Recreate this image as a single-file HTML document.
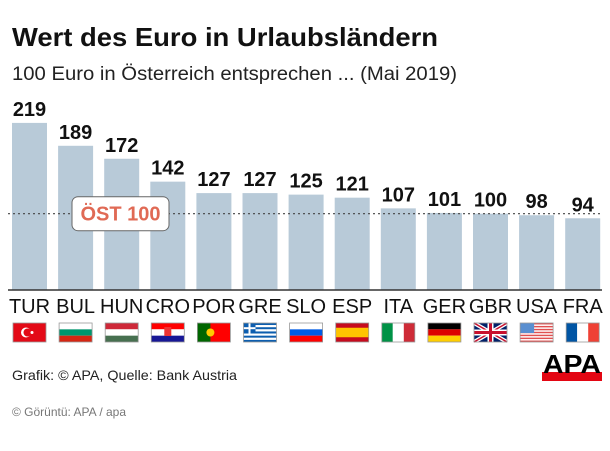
<!DOCTYPE html>
<html><head><meta charset="utf-8"><style>
body{margin:0;width:610px;height:446px;background:#fff;font-family:"Liberation Sans",sans-serif;overflow:hidden}
svg text{font-family:"Liberation Sans",sans-serif}
</style></head><body>
<svg width="610" height="446" id="c">
<text x="12" y="46" font-size="26" font-weight="bold" fill="#111" textLength="426" lengthAdjust="spacingAndGlyphs">Wert des Euro in Urlaubsländern</text>
<text x="12" y="80" font-size="19" fill="#222" textLength="445" lengthAdjust="spacingAndGlyphs">100 Euro in Österreich entsprechen ... (Mai 2019)</text>
<g id="bars"></g>
<line x1="8" x2="602" y1="290" y2="290" stroke="#333" stroke-width="1.5"/>
<line id="ref" x1="8" x2="602" stroke="#444" stroke-dasharray="2,3" stroke-width="1.2"/>
<g id="reflab"></g>
<g id="flags"></g>
<text x="12" y="380" font-size="14" fill="#222" textLength="225" lengthAdjust="spacingAndGlyphs">Grafik: © APA, Quelle: Bank Austria</text>
<g>
<rect x="542" y="372" width="60" height="9" fill="#e30613"/>
<text x="572" y="373" font-size="26" font-weight="900" text-anchor="middle" fill="#000" textLength="58" lengthAdjust="spacingAndGlyphs">APA</text>
</g>
<text x="12" y="416" font-size="12" fill="#777">© Görüntü: APA / apa</text>
</svg>
<script>
const categories=["TUR","BUL","HUN","CRO","POR","GRE","SLO","ESP","ITA","GER","GBR","USA","FRA"];
const values=[219,189,172,142,127,127,125,121,107,101,100,98,94];
const refValue=100;
const NS="http://www.w3.org/2000/svg";
const base=290,scale=0.763,x0=12,pitch=46.1,bw=35;
const y=v=>base-v*scale, x=i=>x0+i*pitch;
function mk(t,a,p){const e=document.createElementNS(NS,t);for(const k in a)e.setAttribute(k,a[k]);p.appendChild(e);return e;}
const g=document.getElementById('bars');
categories.forEach((c,i)=>{
 const r=mk('rect',{x:x(i),y:y(values[i]),width:bw,height:values[i]*scale,fill:'#b8cad8'},g);
 
 
 const t=mk('text',{x:x(i)+bw/2,y:y(values[i])-7,'font-size':20,'font-weight':'bold','text-anchor':'middle',fill:'#111'},g);
 t.textContent=values[i];
 
 
 const l=mk('text',{x:x(i)+bw/2,y:313,'font-size':20,'text-anchor':'middle',fill:'#111'},g);
 l.textContent=c;
 
 
});
const ry=y(refValue);
const ref=document.getElementById('ref');ref.setAttribute('y1',ry);ref.setAttribute('y2',ry);
const rl=document.getElementById('reflab');
mk('rect',{x:72,y:ry-17,width:97,height:34,rx:6,fill:'#fff',stroke:'#666','stroke-width':1},rl);
const rt=mk('text',{x:120.5,y:ry+7,'font-size':20,'font-weight':'bold','text-anchor':'middle',fill:'#e06a55'},rl);rt.textContent='ÖST '+refValue;
const fg=document.getElementById('flags');
const fw=33,fh=19,fy=323;
function stripesH(gx,cols){cols.forEach((c,k)=>mk('rect',{x:0,y:k*fh/cols.length,width:fw,height:fh/cols.length,fill:c},gx));}
function stripesV(gx,cols){cols.forEach((c,k)=>mk('rect',{x:k*fw/cols.length,y:0,width:fw/cols.length,height:fh,fill:c},gx));}
const flagFns={
TUR:f=>{mk('rect',{width:fw,height:fh,fill:'#e30a17'},f);mk('circle',{cx:13,cy:9.5,r:5,fill:'#fff'},f);mk('circle',{cx:14.5,cy:9.5,r:4,fill:'#e30a17'},f);mk('circle',{cx:19,cy:9.5,r:1.5,fill:'#fff'},f);},
BUL:f=>stripesH(f,['#fff','#00966e','#d62612']),
HUN:f=>stripesH(f,['#ce2939','#fff','#477050']),
CRO:f=>{stripesH(f,['#ff0000','#fff','#171796']);mk('rect',{x:13,y:4,width:7,height:9,fill:'#e33'},f);},
POR:f=>{mk('rect',{width:fw,height:fh,fill:'#ff0000'},f);mk('rect',{width:13,height:fh,fill:'#060'},f);mk('circle',{cx:13,cy:9.5,r:4,fill:'#fc0'},f);},
GRE:f=>{stripesH(f,['#0d5eaf','#fff','#0d5eaf','#fff','#0d5eaf','#fff','#0d5eaf','#fff','#0d5eaf']);mk('rect',{width:12,height:10.5,fill:'#0d5eaf'},f);mk('rect',{x:5,width:2,height:10.5,fill:'#fff'},f);mk('rect',{y:4.2,width:12,height:2,fill:'#fff'},f);},
SLO:f=>stripesH(f,['#fff','#005ce5','#ff0000']),
ESP:f=>{mk('rect',{width:fw,height:fh,fill:'#c60b1e'},f);mk('rect',{y:4.75,width:fw,height:9.5,fill:'#ffc400'},f);},
ITA:f=>stripesV(f,['#009246','#fff','#ce2b37']),
GER:f=>stripesH(f,['#000','#dd0000','#ffce00']),
GBR:f=>{mk('rect',{width:fw,height:fh,fill:'#012169'},f);mk('path',{d:`M0,0L${fw},${fh}M${fw},0L0,${fh}`,stroke:'#fff','stroke-width':4},f);mk('path',{d:`M0,0L${fw},${fh}M${fw},0L0,${fh}`,stroke:'#c8102e','stroke-width':1.5},f);mk('path',{d:`M${fw/2},0V${fh}M0,${fh/2}H${fw}`,stroke:'#fff','stroke-width':6},f);mk('path',{d:`M${fw/2},0V${fh}M0,${fh/2}H${fw}`,stroke:'#c8102e','stroke-width':3},f);},
USA:f=>{for(let k=0;k<7;k++)mk('rect',{y:k*fh/6.5,width:fw,height:fh/13,fill:'#e05050'},f);mk('rect',{width:14,height:10,fill:'#5a8fd0'},f);},
FRA:f=>stripesV(f,['#0055a4','#fff','#ef4135'])
};
categories.forEach((c,i)=>{
 const f=mk('g',{transform:`translate(${x(i)+bw/2-fw/2},${fy})`},fg);
 
 
 mk('rect',{width:fw,height:fh,fill:'#fff'},f);
 flagFns[c](f);
 mk('rect',{width:fw,height:fh,fill:'none',stroke:'#999','stroke-width':0.8},f);
});
</script>
</body></html>
